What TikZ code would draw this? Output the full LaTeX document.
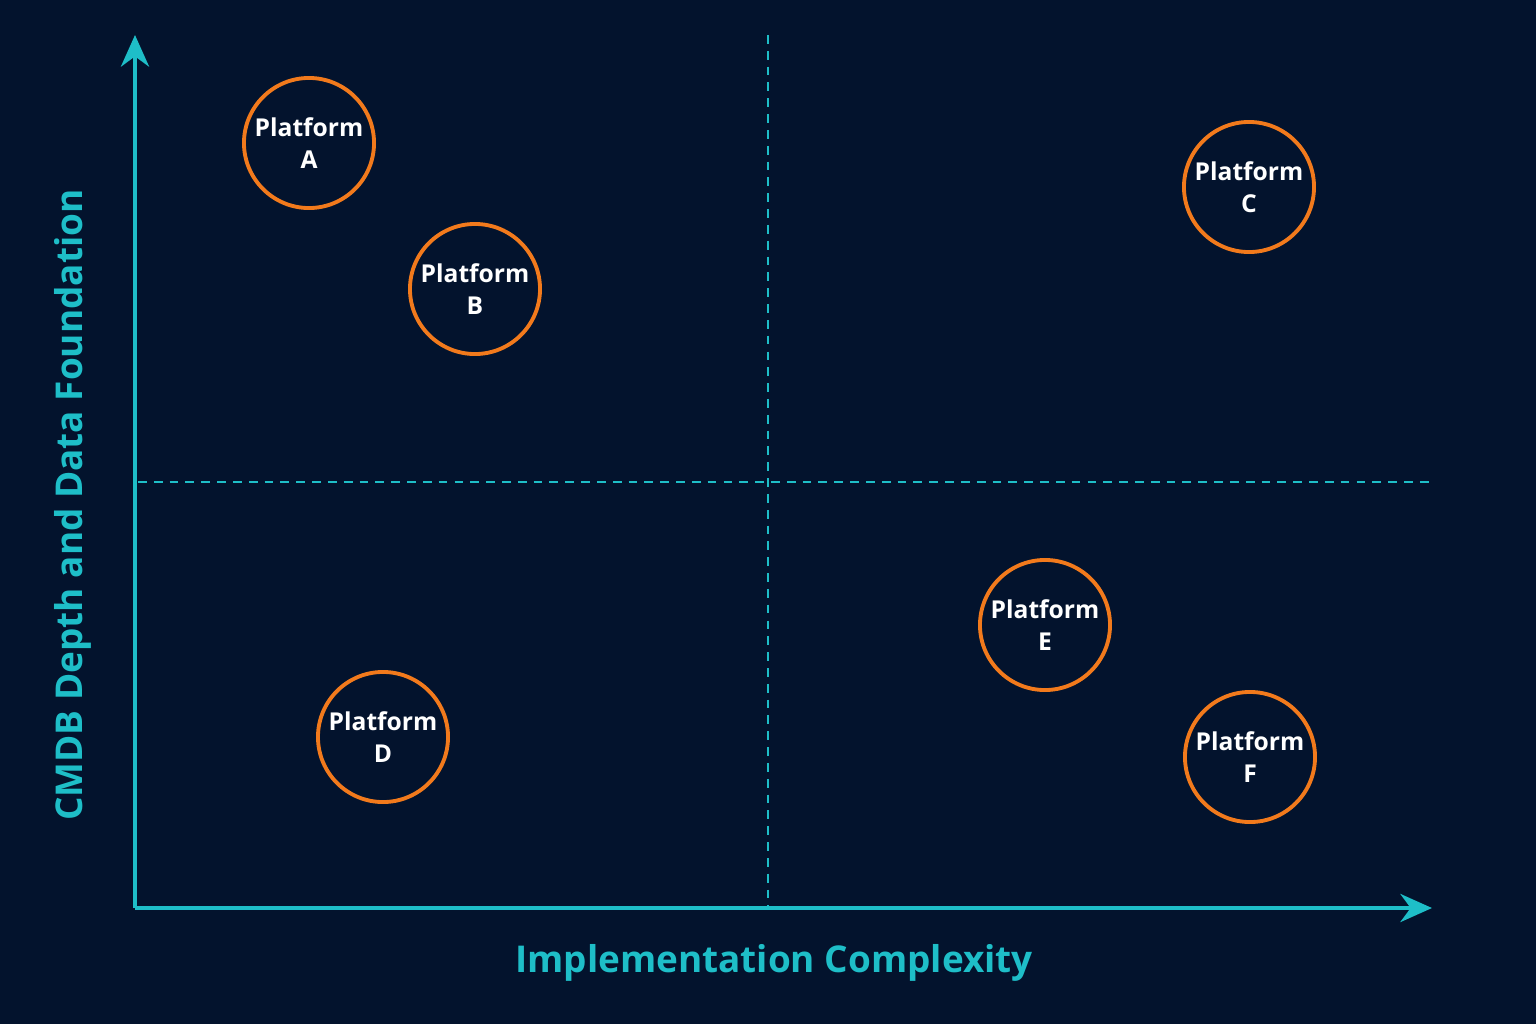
\documentclass[tikz,border=0pt]{standalone}
\usepackage{fontspec}
\setmainfont{Open Sans}
\usetikzlibrary{arrows.meta,positioning}
\definecolor{qbg}{RGB}{3,19,45}
\definecolor{qcyan}{RGB}{30,190,200}
\definecolor{qorange}{RGB}{242,122,28}
\tikzset{
  axis/.style={line width=1.1pt,color=qcyan,-{Stealth[length=9pt,width=8pt]}},
  divider/.style={line width=0.5pt,color=qcyan,dash pattern=on 2.5pt off 2pt},
  platform/.style={circle,draw=qorange,line width=1.1pt,minimum size=1.3cm,
    text=white,align=center,font=\fontsize{7}{9}\selectfont\bfseries,inner sep=0pt},
  axislabel/.style={text=qcyan,font=\fontsize{10.5}{12}\selectfont\bfseries}
}
\begin{document}
\begin{tikzpicture}[x=0.01cm,y=-0.01cm]
\fill[qbg] (0,0) rectangle (1536,1024);
\useasboundingbox (0,0) rectangle (1536,1024);
% axes
\coordinate (origin) at (135,908);
\coordinate (ytop) at (135,35);
\coordinate (xend) at (1432,908);
\draw[axis] (origin) -- (ytop);
\draw[axis] (origin) -- (xend);
% quadrant dividers
\coordinate (vtop) at (768,35);
\coordinate (vbot) at (768,908);
\coordinate (hleft) at (138,482);
\coordinate (hright) at (1435,482);
\draw[divider] (vtop) -- (vbot);
\draw[divider] (hleft) -- (hright);
% labels
\node[axislabel] (xlabel) at (774,963) {Implementation Complexity};
\node[axislabel,rotate=90] (ylabel) at (73,505) {CMDB Depth and Data Foundation};
% platforms
\node[platform] (pa) at (309,143) {Platform\\A};
\node[platform] (pb) at (475,289) {Platform\\B};
\node[platform] (pc) at (1249,187) {Platform\\C};
\node[platform] (pd) at (383,737) {Platform\\D};
\node[platform] (pe) at (1045,625) {Platform\\E};
\node[platform] (pf) at (1250,757) {Platform\\F};
\end{tikzpicture}
\end{document}
